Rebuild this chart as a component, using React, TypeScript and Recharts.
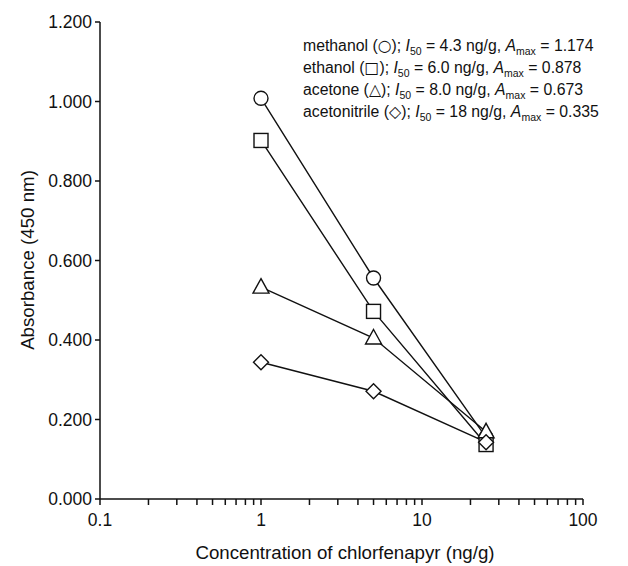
import { LineChart, Line, XAxis, YAxis } from "recharts";

// concentration of chlorfenapyr (ng/g)
const concentrations = [1, 5, 25];

// absorbance at 450 nm per extraction solvent
const methanol = [1.008, 0.556, 0.155];
const ethanol = [0.902, 0.472, 0.137];
const acetone = [0.533, 0.405, 0.169];
const acetonitrile = [0.344, 0.271, 0.143];

const yTicks = [0, 0.2, 0.4, 0.6, 0.8, 1.0, 1.2];
const xMajor = [0.1, 1, 10, 100];
const xTicks = [
  0.1, 0.2, 0.3, 0.4, 0.5, 0.6, 0.7, 0.8, 0.9,
  1, 2, 3, 4, 5, 6, 7, 8, 9,
  10, 20, 30, 40, 50, 60, 70, 80, 90, 100,
];

// legend text
const solvents = ["methanol", "ethanol", "acetone", "acetonitrile"];
const symbols = ["\u25CB", "\u25A1", "\u25B3", "\u25C7"];
const i50 = ["4.3", "6.0", "8.0", "18"];
const amax = ["1.174", "0.878", "0.673", "0.335"];

const FONT = "'Liberation Sans', Arial, Helvetica, sans-serif";
const INK = "#111";

function toPoints(ys: number[]) {
  return concentrations.map((x, i) => ({ x, y: ys[i] }));
}

type Shape = "circle" | "square" | "triangle" | "diamond";

function Marker({ cx, cy, shape }: { cx: number; cy: number; shape: Shape }) {
  const common = { fill: "#fff", stroke: INK, strokeWidth: 1.4 };
  if (cx == null || cy == null) return null;
  if (shape === "circle") return <circle cx={cx} cy={cy} r={7} {...common} />;
  if (shape === "square")
    return <rect x={cx - 7} y={cy - 7} width={14} height={14} {...common} />;
  if (shape === "triangle")
    return (
      <polygon
        points={`${cx},${cy - 8.5} ${cx + 8},${cy + 6} ${cx - 8},${cy + 6}`}
        {...common}
      />
    );
  return (
    <polygon
      points={`${cx},${cy - 7.5} ${cx + 7.5},${cy} ${cx},${cy + 7.5} ${cx - 7.5},${cy}`}
      {...common}
    />
  );
}

function dotFor(shape: Shape) {
  return (p: any) => <Marker key={`${shape}-${p.index}`} cx={p.cx} cy={p.cy} shape={shape} />;
}

export default function App() {
  return (
    <div style={{ position: "absolute", left: 0, top: 0, width: 628, height: 566, background: "#fff" }}>
      <LineChart
        width={628}
        height={566}
        margin={{ top: 22, right: 45, bottom: 0, left: 0 }}
        style={{ fontFamily: FONT }}
      >
        <XAxis
          dataKey="x"
          type="number"
          scale="log"
          domain={[0.1, 100]}
          ticks={xTicks}
          interval={0}
          tickFormatter={(v: number) => (xMajor.includes(v) ? String(v) : "")}
          tick={{ fontSize: 17.5, fill: INK }}
          tickLine={{ stroke: INK, strokeWidth: 1.5 }}
          tickSize={6}
          tickMargin={9}
          height={67}
          axisLine={{ stroke: INK, strokeWidth: 1.5 }}
        />
        <XAxis
          xAxisId="top"
          orientation="top"
          type="number"
          scale="log"
          domain={[0.1, 100]}
          height={0}
          tick={false}
          tickLine={false}
          axisLine={{ stroke: INK, strokeWidth: 1.5 }}
        />
        <YAxis
          type="number"
          domain={[0, 1.2]}
          ticks={yTicks}
          width={100}
          tickSize={5}
          tickMargin={3}
          tickFormatter={(v: number) => v.toFixed(3)}
          tick={{ fontSize: 17.5, fill: INK }}
          tickLine={{ stroke: INK, strokeWidth: 1.5 }}
          axisLine={{ stroke: INK, strokeWidth: 1.5 }}
        />
        <YAxis
          yAxisId="right"
          orientation="right"
          domain={[0, 1.2]}
          width={0}
          tick={false}
          tickLine={false}
          axisLine={{ stroke: INK, strokeWidth: 1.5 }}
        />
        <Line data={toPoints(methanol)} dataKey="y" stroke={INK} strokeWidth={1.4} dot={dotFor("circle")} isAnimationActive={false} />
        <Line data={toPoints(ethanol)} dataKey="y" stroke={INK} strokeWidth={1.4} dot={dotFor("square")} isAnimationActive={false} />
        <Line data={toPoints(acetone)} dataKey="y" stroke={INK} strokeWidth={1.4} dot={dotFor("triangle")} isAnimationActive={false} />
        <Line data={toPoints(acetonitrile)} dataKey="y" stroke={INK} strokeWidth={1.4} dot={dotFor("diamond")} isAnimationActive={false} />
      </LineChart>

      <svg
        width={628}
        height={566}
        style={{ position: "absolute", left: 0, top: 0, pointerEvents: "none" }}
        fontFamily={FONT}
        fill={INK}
      >
        <text
          transform="translate(27,260) rotate(-90)"
          textAnchor="middle"
          dominantBaseline="central"
          fontSize={18.7}
        >
          Absorbance (450 nm)
        </text>
        <text x={345} y={559} textAnchor="middle" fontSize={18.7}>
          Concentration of chlorfenapyr (ng/g)
        </text>
        {solvents.map((s, i) => (
          <text key={s} x={303} y={51 + i * 22} fontSize={15.8}>
            {s} (
            <tspan fontFamily="'DejaVu Sans', sans-serif">{symbols[i]}</tspan>
            );{" "}
            <tspan fontStyle="italic">I</tspan>
            <tspan fontSize={10.5} dy={4}>50</tspan>
            <tspan dy={-4}> = {i50[i]} ng/g, </tspan>
            <tspan fontStyle="italic">A</tspan>
            <tspan fontSize={10.5} dy={4}>max</tspan>
            <tspan dy={-4}> = {amax[i]}</tspan>
          </text>
        ))}
      </svg>
    </div>
  );
}
